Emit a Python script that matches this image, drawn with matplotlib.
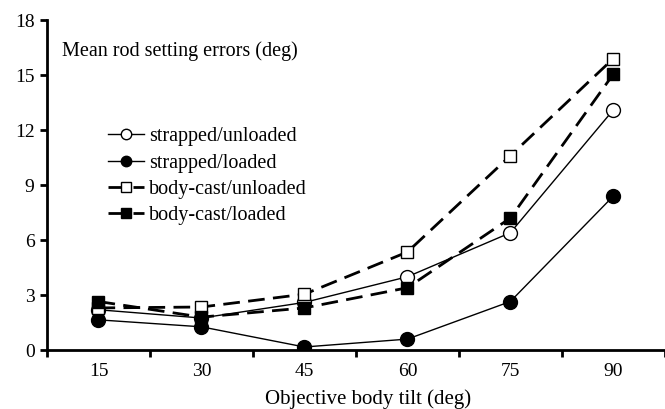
"""Mean rod setting errors versus objective body tilt."""

import matplotlib

matplotlib.use("Agg")

import matplotlib.pyplot as plt
import numpy as np

TILTS = ["15", "30", "45", "60", "75", "90"]
STRAPPED_UNLOADED = [2.2, 1.75, 2.6, 4.0, 6.4, 13.1]
STRAPPED_LOADED = [1.65, 1.27, 0.17, 0.6, 2.65, 8.4]
BODYCAST_UNLOADED = [2.3, 2.35, 3.05, 5.35, 10.6, 15.9]
BODYCAST_LOADED = [2.65, 1.8, 2.3, 3.4, 7.2, 15.05]
Y_TICKS = [0, 3, 6, 9, 12, 15, 18]

plt.rcParams["font.family"] = ["Liberation Serif", "DejaVu Serif"]

fig = plt.figure(figsize=(6.65, 4.09), dpi=100)
ax = fig.add_axes([0.0707, 0.144, 0.929, 0.807])

x = np.arange(len(TILTS))
dash = (0, (6, 3))

ax.plot(x, STRAPPED_UNLOADED, color="black", linewidth=1.0, marker="o", markersize=10,
        markerfacecolor="white", markeredgecolor="black", markeredgewidth=1.0,
        label="strapped/unloaded", zorder=3)
ax.plot(x, STRAPPED_LOADED, color="black", linewidth=1.0, marker="o", markersize=10,
        markerfacecolor="black", markeredgecolor="black", label="strapped/loaded", zorder=3)
ax.plot(x, BODYCAST_UNLOADED, color="black", linewidth=2.0, linestyle=dash, marker="s",
        markersize=9, markerfacecolor="white", markeredgecolor="black", markeredgewidth=1.0,
        label="body-cast/unloaded", zorder=4)
ax.plot(x, BODYCAST_LOADED, color="black", linewidth=2.0, linestyle=dash, marker="s",
        markersize=9, markerfacecolor="black", markeredgecolor="black",
        label="body-cast/loaded", zorder=4)

ax.set_xlim(-0.5, len(TILTS) - 0.5)
ax.set_ylim(0, 18)
ax.set_yticks(Y_TICKS)
ax.set_xticks(np.arange(len(TILTS) + 1) - 0.5)
ax.set_xticklabels([])
ax.set_xticks(x, minor=True)
ax.set_xticklabels(TILTS, minor=True)
ax.tick_params(axis="x", which="major", direction="out", length=5, width=2)
ax.tick_params(axis="x", which="minor", length=0, pad=9, labelsize=14)
ax.tick_params(axis="y", direction="out", length=5, width=2, labelsize=14, pad=4)

for side in ("top", "right"):
    ax.spines[side].set_visible(False)
for side in ("left", "bottom"):
    ax.spines[side].set_linewidth(2)

ax.set_xlabel("Objective body tilt (deg)", fontsize=15, labelpad=0)
ax.xaxis.set_label_coords(0.52, -0.118)
ax.text(0.025, 0.905, "Mean rod setting errors (deg)", transform=ax.transAxes,
        fontsize=14.5, va="center", ha="left")

ax.legend(loc="upper left", bbox_to_anchor=(0.085, 0.70), frameon=False, fontsize=14.5,
          handlelength=1.8, handletextpad=0.25, labelspacing=0.36, borderaxespad=0,
          markerscale=0.75)

fig.savefig("out.png", dpi=100)
